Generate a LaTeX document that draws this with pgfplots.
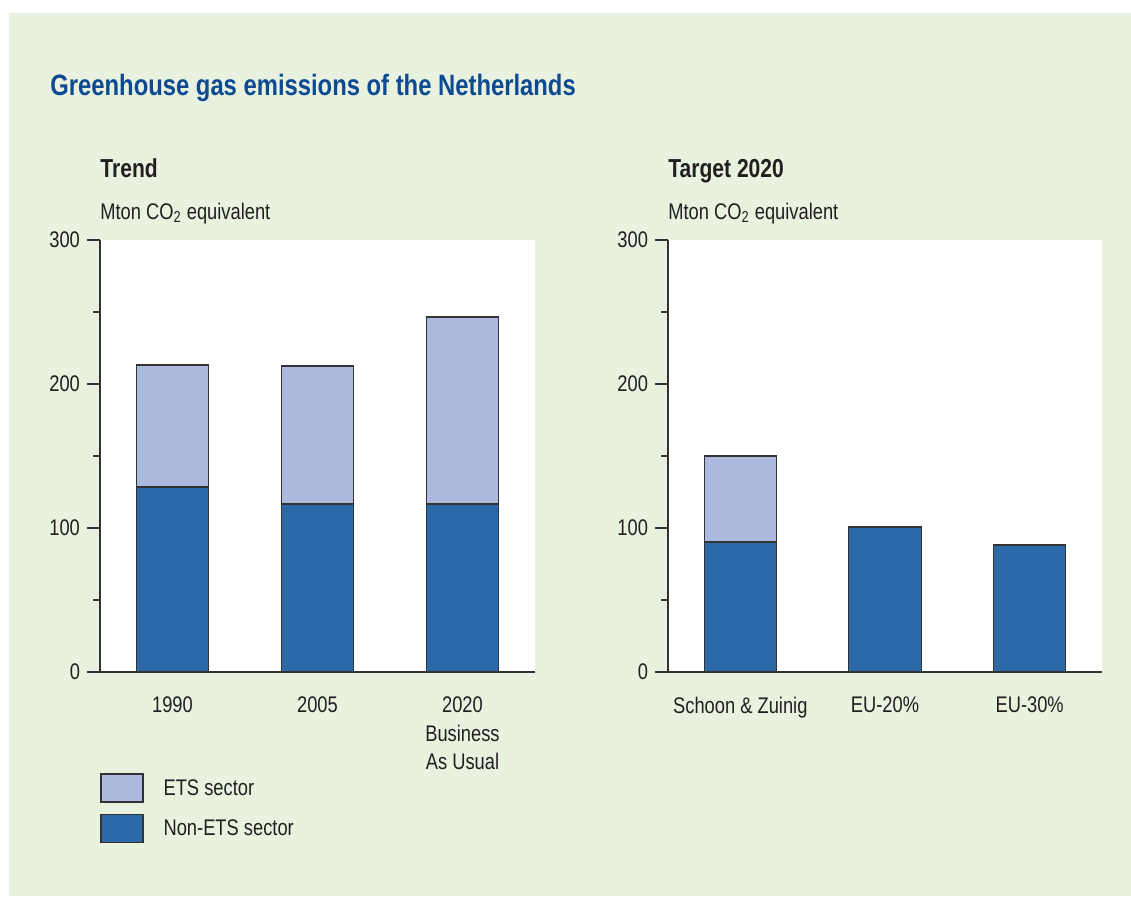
\documentclass[border=0pt]{standalone}
\usepackage{pgfplots}
\pgfplotsset{compat=1.18}
\usepackage{fontspec}
\setmainfont{Liberation Sans}[FakeStretch=0.81]
\definecolor{bg}{HTML}{E8F2DE}
\definecolor{dark}{HTML}{2C69A8}
\definecolor{light}{HTML}{AEB9DF}
\definecolor{ttl}{HTML}{0D4A92}
\definecolor{txt}{HTML}{231F20}
\definecolor{ax}{HTML}{333333}
\pgfplotsset{
  common/.style={
    scale only axis, height=216pt,
    ymin=0, ymax=300, xmin=-0.5, xmax=2.5,
    axis x line*=bottom, axis y line*=left,
    axis line style={ax, line width=0.6pt},
    axis background/.style={fill=white},
    ytick={0,100,200,300}, minor ytick={50,150,250},
    tick align=outside, major tick length=6.5pt, minor tick length=3.5pt,
    ytick style={ax, line width=0.6pt},
    minor tick style={ax, line width=0.6pt},
    xtick={0,1,2}, xtick style={draw=none},
    ybar stacked, bar width=0.5,
    tick label style={font=\fontsize{11.3}{14.25}\selectfont, text=txt},
    xticklabel style={align=center, yshift=-2.4pt},
    /pgf/number format/assume math mode=true,
  },
  leg/.style={legend image code/.code={\draw[##1, draw=ax, line width=0.6pt] (0pt,-6.4pt) rectangle (21pt,7.6pt);}},
}
\begin{document}
\begin{tikzpicture}
\fill[white] (0,0) rectangle (565.5pt,-455.5pt);
\fill[bg] (4.5pt,-6.5pt) rectangle (565.5pt,-448pt);
\begin{axis}[common, at={(50pt,-336pt)}, anchor=south west, width=217.5pt,
  xticklabels={1990,2005,{2020\\Business\\As Usual}},
  reverse legend,
  legend style={at={(rel axis cs:0,-0.2338)}, anchor=north west, draw=none, fill=none,
    inner sep=0pt, row sep=5.5pt, font=\fontsize{11.3}{13}\selectfont, text=txt,
    nodes={inner sep=0pt}, /tikz/every odd column/.style={column sep=10pt}},
  legend cell align=left]
\addplot[fill=dark, draw=ax, line width=0.6pt, leg] coordinates {(0,128.5) (1,116.7) (2,116.7)};
\addlegendentry{Non-ETS sector}
\addplot[fill=light, draw=ax, line width=0.6pt, leg] coordinates {(0,84.7) (1,95.8) (2,129.8)};
\addlegendentry{ETS sector}
\end{axis}
\begin{axis}[common, at={(334pt,-336pt)}, anchor=south west, width=217pt,
  xticklabels={Schoon \& Zuinig,EU-20\%,EU-30\%}]
\addplot[fill=dark, draw=ax, line width=0.6pt] coordinates {(0,90.3) (1,100.7) (2,88.2)};
\addplot[fill=light, draw=ax, line width=0.6pt] coordinates {(0,59.7) (1,0) (2,0)};
\end{axis}
\node[anchor=base west, inner sep=0pt, text=ttl, font=\fontsize{14.7}{17}\selectfont\bfseries] at (25pt,-47.5pt) {Greenhouse gas emissions of the Netherlands};
\node[anchor=base west, inner sep=0pt, text=txt, font=\fontsize{13}{15}\selectfont\bfseries] at (50pt,-88.5pt) {Trend};
\node[anchor=base west, inner sep=0pt, text=txt, font=\fontsize{13}{15}\selectfont\bfseries] at (334pt,-88.5pt) {Target 2020};
\node[anchor=base west, inner sep=0pt, text=txt, font=\fontsize{11.3}{13}\selectfont] at (50pt,-109.5pt) {Mton CO\textsubscript{2} equivalent};
\node[anchor=base west, inner sep=0pt, text=txt, font=\fontsize{11.3}{13}\selectfont] at (334pt,-109.5pt) {Mton CO\textsubscript{2} equivalent};
\end{tikzpicture}
\end{document}
